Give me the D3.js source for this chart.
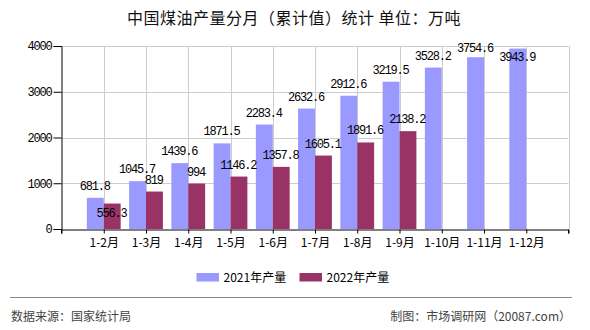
<!DOCTYPE html>
<html><head><meta charset="utf-8">
<script src="https://cdn.jsdelivr.net/npm/d3@7"></script>
<style>
body{margin:0;background:#fff;}
svg{display:block;}
</style></head>
<body>
<svg id="chart" width="590" height="330"></svg>
<script>
const categories = ["1-2月","1-3月","1-4月","1-5月","1-6月","1-7月","1-8月","1-9月","1-10月","1-11月","1-12月"];
const values2021 = [681.8, 1045.7, 1439.6, 1871.5, 2283.4, 2632.6, 2912.6, 3219.5, 3528.2, 3754.6, 3943.9];
const values2022 = [556.3, 819, 994, 1146.2, 1357.8, 1605.1, 1891.6, 2138.2];
const seriesNames = ["2021年产量", "2022年产量"];
const seriesColors = ["#9999FF", "#993366"];
const yTicks = [0, 1000, 2000, 3000, 4000];
const titleText = "中国煤油产量分月（累计值）统计 单位：万吨";
const sourceText = "数据来源：国家统计局";
const creditText = "制图：市场调研网（20087.com）";

(function(){
const svg = d3.select("#chart");
const cjk = "'Noto Sans CJK SC', 'Noto Sans', sans-serif";
const mono = "'Liberation Mono', 'DejaVu Sans Mono', monospace";

const pL = 61.5, pR = 568.5, pT = 46, pB = 229;
const x = d3.scalePoint().domain(categories).range([pL, pR]).padding(1);
const y = d3.scaleLinear().domain([0, 4000]).range([pB, pT]);
const bw = x.step() * 0.4;

// title
svg.append("text").attr("x", 294).attr("y", 24).attr("text-anchor", "middle")
  .attr("font-family", cjk).attr("font-size", 16).attr("letter-spacing", 0.5)
  .attr("fill", "#111").text(titleText);

// grid
const grid = svg.append("g").attr("stroke", "#cccccc").attr("stroke-width", 1);
yTicks.filter(d => d > 0).forEach(t => {
  grid.append("line").attr("x1", pL).attr("x2", pR)
    .attr("y1", Math.round(y(t)) + 0.5).attr("y2", Math.round(y(t)) + 0.5);
});
categories.map(c => x(c)).concat([pR]).forEach(px => {
  grid.append("line").attr("x1", Math.round(px) + 0.5).attr("x2", Math.round(px) + 0.5)
    .attr("y1", pT).attr("y2", pB);
});

// bars
const g = svg.append("g");
g.selectAll("rect.a").data(values2021).join("rect")
  .attr("x", (d, i) => x(categories[i]) - bw).attr("width", bw)
  .attr("y", d => y(d)).attr("height", d => pB - y(d)).attr("fill", seriesColors[0]);
g.selectAll("rect.b").data(values2022).join("rect")
  .attr("x", (d, i) => x(categories[i])).attr("width", bw)
  .attr("y", d => y(d)).attr("height", d => pB - y(d)).attr("fill", seriesColors[1]);

// axes
const yAxis = d3.axisLeft(y).tickValues(yTicks).tickSize(8).tickPadding(2).tickFormat(d3.format("d"));
const ya = svg.append("g").attr("transform", `translate(${pL},0)`).call(yAxis);
ya.selectAll("text").attr("font-family", mono).attr("font-size", 12).attr("letter-spacing", -1.2).attr("fill", "#000");
ya.selectAll("line,path").attr("stroke", "#000");

const xAxis = d3.axisBottom(x).tickSize(4).tickPadding(5).tickSizeOuter(4);
const xa = svg.append("g").attr("transform", `translate(0,${pB + 0.5})`).call(xAxis);
xa.selectAll("text").attr("font-family", cjk).attr("font-size", 12).attr("fill", "#000");
xa.selectAll("line,path").attr("stroke", "#000");
[pL, pR].forEach(px => xa.append("line").attr("x1", px).attr("x2", px).attr("y1", 0).attr("y2", 4).attr("stroke", "#000"));

// value labels
const charW = 6, lh = 9;
function lbl(v){ return String(v); }
function place2021(v) {
  let b = y(v) - 8;
  if (b < pT) b = y(v) + 12.5;
  else b = Math.max(b, pT + 6);
  return b;
}
const labA = values2021.map((v, i) => {
  const cx = x(categories[i]) - bw / 2;
  const w = lbl(v).length * charW;
  return {cx, b: place2021(v), w, t: lbl(v)};
});
const labB = values2022.map((v, i) => {
  const cx = x(categories[i]) + bw / 2;
  const w = lbl(v).length * charW;
  let b = y(v) - 8;
  const a = labA[i];
  const hOver = Math.abs(a.cx - cx) < (a.w + w) / 2;
  const vOver = (b > a.b - lh) && (b - lh < a.b);
  if (hOver && vOver) b += 21;
  return {cx, b, w, t: lbl(v)};
});
const lg = svg.append("g").attr("font-family", mono).attr("font-size", 12)
  .attr("letter-spacing", -1.2).attr("fill", "#000").attr("text-anchor", "middle");
labA.concat(labB).forEach(l => lg.append("text").attr("x", l.cx - 0.6).attr("y", l.b).text(l.t));

// legend
const legX = [196.5, 299.5];
seriesNames.forEach((n, i) => {
  svg.append("rect").attr("x", legX[i]).attr("y", 273).attr("width", 22.5).attr("height", 8.5).attr("fill", seriesColors[i]);
  svg.append("text").attr("x", legX[i] + 27).attr("y", 282).attr("font-family", cjk).attr("font-size", 12)
    .attr("fill", "#000").text(n);
});

// footer
svg.append("line").attr("x1", 10).attr("x2", 572).attr("y1", 297.5).attr("y2", 297.5).attr("stroke", "#888").attr("stroke-width", 1);
svg.append("text").attr("x", 11).attr("y", 321).attr("font-family", cjk).attr("font-size", 12).attr("fill", "#444").text(sourceText);
svg.append("text").attr("x", 571).attr("y", 321).attr("text-anchor", "end").attr("font-family", cjk).attr("font-size", 12).attr("fill", "#444").text(creditText);
})();
</script>
</body></html>
